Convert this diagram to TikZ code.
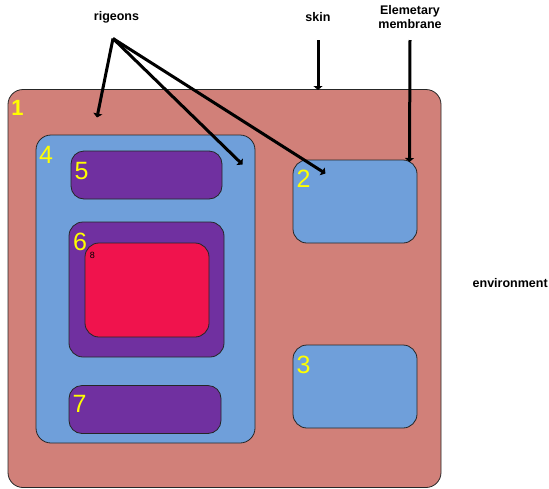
\documentclass[tikz,border=0pt]{standalone}
\usepackage{fontspec}
\setmainfont{Liberation Sans}
\usetikzlibrary{arrows.meta}
\definecolor{skinred}{RGB}{209,128,121}
\definecolor{cellblue}{RGB}{111,159,218}
\definecolor{organpurple}{RGB}{112,48,160}
\definecolor{corered}{RGB}{240,19,77}
\definecolor{numyellow}{RGB}{255,255,0}
\tikzset{
  box/.style={draw=black!85, line width=0.8pt, rectangle, inner sep=0pt, outer sep=0pt},
  num/.style={text=numyellow, font=\fontsize{25}{25}\selectfont, inner sep=0pt},
  tag/.style={font=\bfseries\fontsize{12.5}{14}\selectfont, align=center, inner sep=0pt},
  pointer/.style={line width=3pt, -{Triangle[width=9pt,length=4pt]}}
}
\begin{document}
\begin{tikzpicture}[x=1pt,y=-1pt]
  \useasboundingbox (0,0) rectangle (549,488);
  \clip (0,0) rectangle (549,488);

  % outer skin
  \node[box, fill=skinred, rounded corners=15pt, minimum width=433pt, minimum height=398pt]
    (b1) at (224.5,288.5) {};
  % left compartment and its inner parts
  \node[box, fill=cellblue, rounded corners=15pt, minimum width=219pt, minimum height=308pt]
    (b4) at (145.5,289) {};
  \node[box, fill=organpurple, rounded corners=13pt, minimum width=151pt, minimum height=48pt]
    (b5) at (146.5,175) {};
  \node[box, fill=organpurple, rounded corners=14pt, minimum width=155pt, minimum height=135pt]
    (b6) at (146.5,289.5) {};
  \node[box, fill=corered, rounded corners=14pt, minimum width=124pt, minimum height=94pt]
    (b8) at (147,290) {};
  \node[box, fill=organpurple, rounded corners=13pt, minimum width=152pt, minimum height=48pt]
    (b7) at (145,409.5) {};
  % right compartments
  \node[box, fill=cellblue, rounded corners=14pt, minimum width=124pt, minimum height=83pt]
    (b2) at (355,201.5) {};
  \node[box, fill=cellblue, rounded corners=14pt, minimum width=124pt, minimum height=83pt]
    (b3) at (355,386.5) {};

  % numbering
  \node[num, font=\bfseries\fontsize{22}{22}\selectfont] (n1) at (17.5,107.5) {1};
  \node[num] (n4) at (46,154.5) {4};
  \node[num] (n5) at (81.5,171) {5};
  \node[num] (n6) at (80,241.5) {6};
  \node[num] (n7) at (79.5,404) {7};
  \node[num] (n2) at (303.5,179) {2};
  \node[num] (n3) at (303.5,365) {3};
  \node[inner sep=0pt, font=\fontsize{9}{9}\selectfont] (n8) at (92.5,255.5) {8};

  % annotations
  \node[tag] (rig) at (116.5,17) {rigeons};
  \node[tag] (skin) at (318,17.5) {skin};
  \node[tag] (elem) at (410,17.5) {Elemetary\\membrane};
  \node[tag, anchor=west] (env) at (472.5,283) {environment};

  % arrow start and end points
  \coordinate (rg) at (113,38.5);
  \coordinate (tgA) at (97,117.5);
  \coordinate (tgB) at (242.5,164.5);
  \coordinate (tgC) at (325.5,173.5);
  \coordinate (sk) at (318,40);
  \coordinate (skT) at (318,90);
  \coordinate (el) at (410,40);
  \coordinate (elT) at (409.5,162);

  \draw[pointer] (rg) -- (tgA);
  \draw[pointer] (rg) -- (tgB);
  \draw[pointer] (rg) -- (tgC);
  \draw[pointer] (sk) -- (skT);
  \draw[pointer] (el) -- (elT);
\end{tikzpicture}
\end{document}
